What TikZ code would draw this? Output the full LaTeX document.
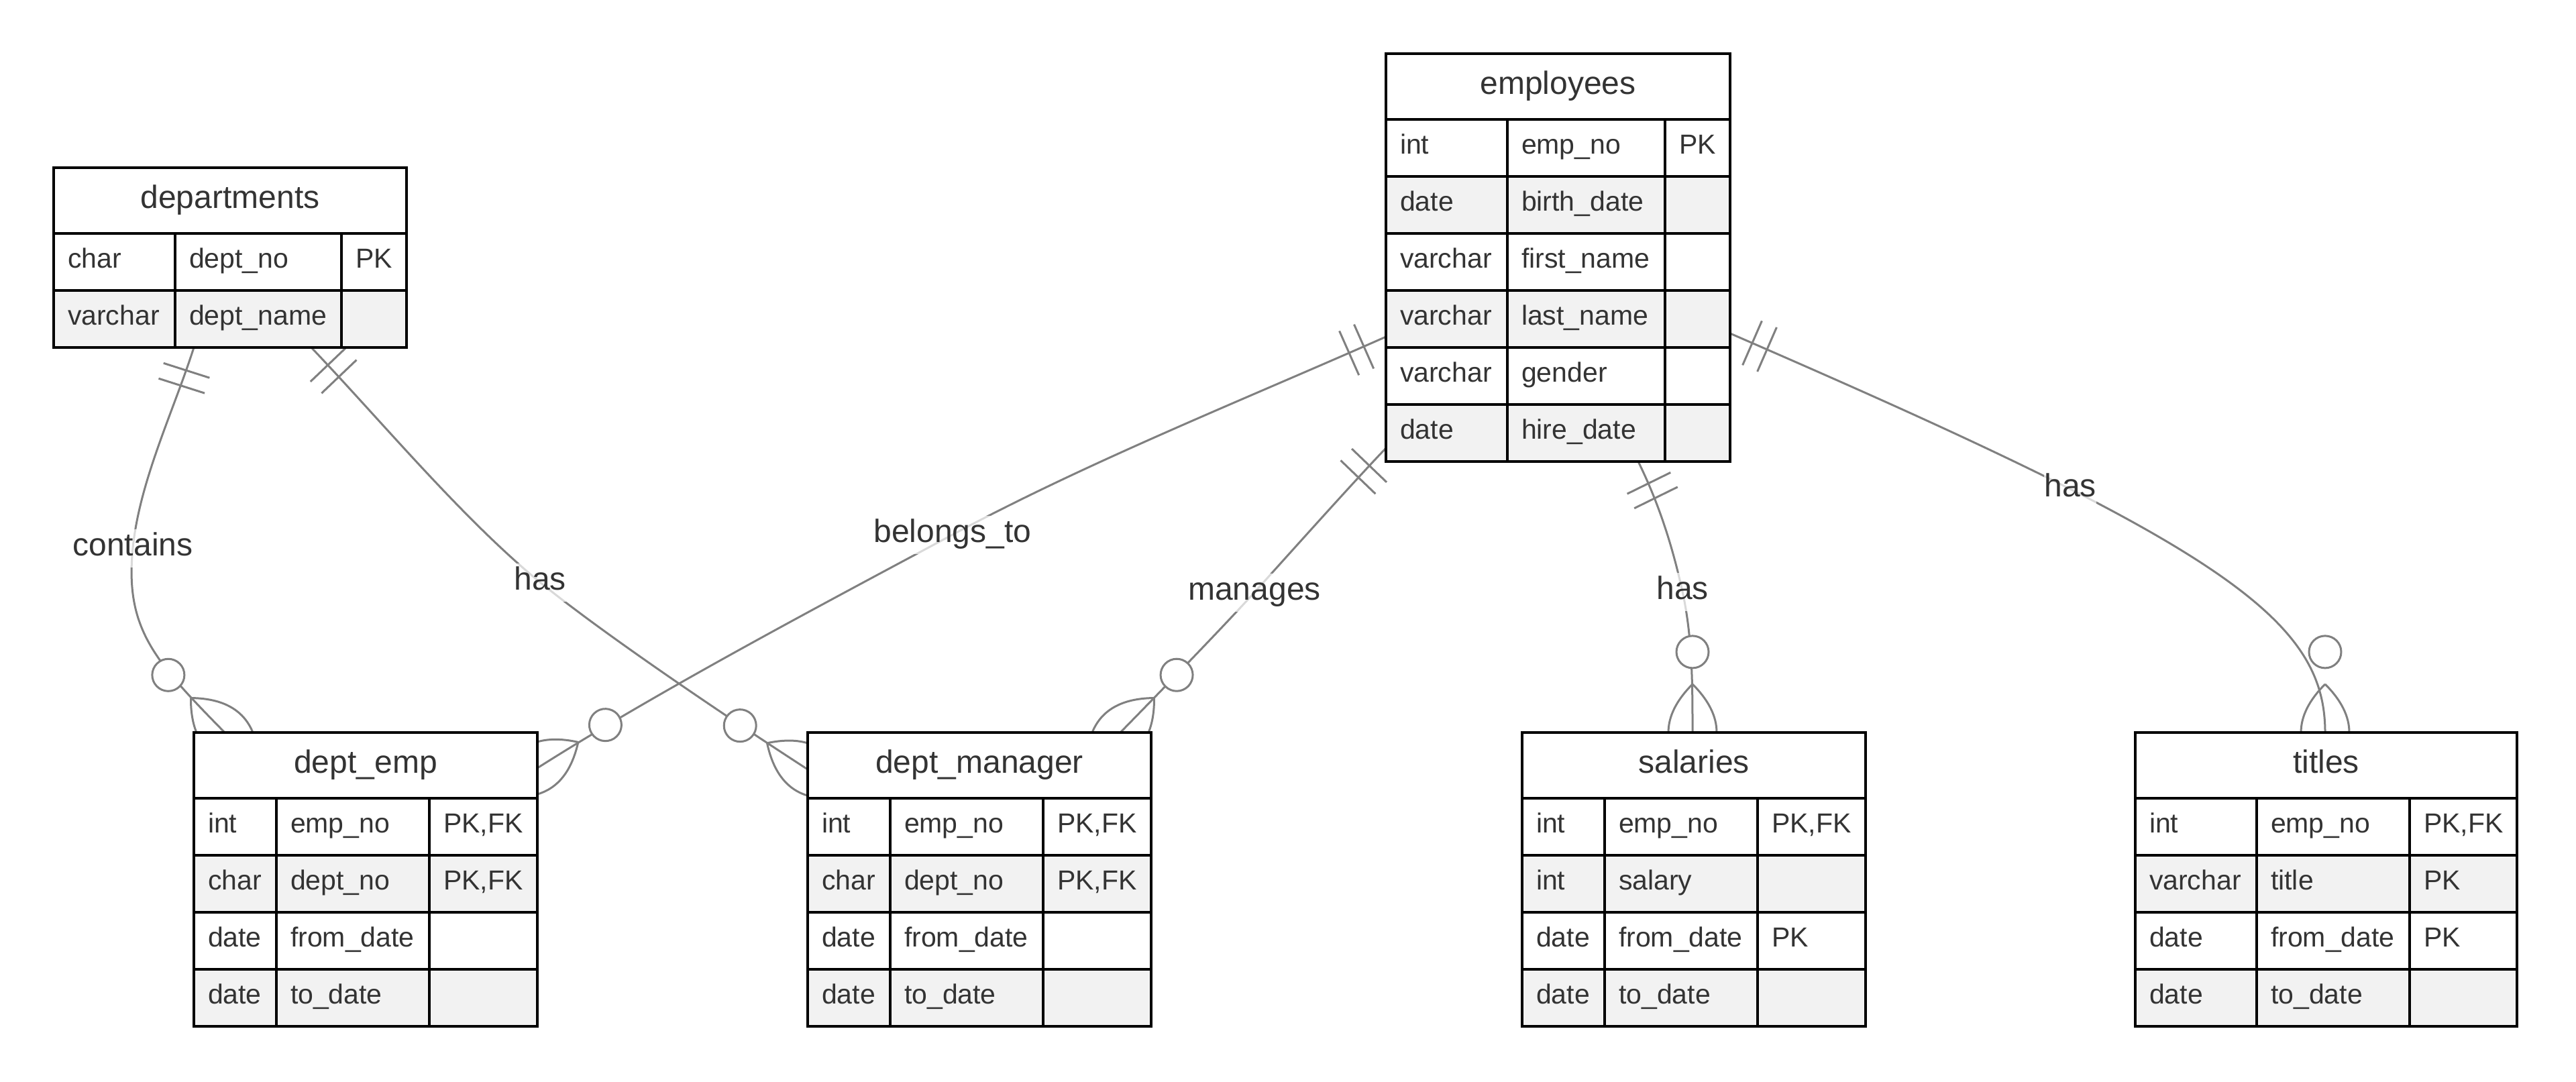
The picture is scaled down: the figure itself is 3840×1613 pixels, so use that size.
\documentclass[tikz,border=0pt]{standalone}
\usepackage{fontspec}
\setmainfont{Liberation Sans}
\usetikzlibrary{calc}
\usetikzlibrary{backgrounds}
\usetikzlibrary{decorations.markings}
\definecolor{textgray}{HTML}{333333}
\definecolor{linegray}{HTML}{808080}
\definecolor{row1}{HTML}{FFFFFF}
\definecolor{row0}{HTML}{F2F2F2}
\tikzset{
  erframe/.style={inner sep=0pt, outer sep=0pt, anchor=north west},
  erhead/.style={draw=black, line width=3.5pt, fill=white, inner sep=0pt, outer sep=0pt,
    anchor=north west, minimum height=98pt, text=textgray,
    font=\fontsize{48}{58}\selectfont, text height=35pt, text depth=12pt},
  ercell/.style={draw=black, line width=3.5pt, inner xsep=21pt, inner ysep=0pt, outer sep=0pt,
    anchor=north west, minimum height=85pt, align=flush left, text=textgray,
    font=\fontsize{41}{50}\selectfont, text height=30pt, text depth=12pt},
  rel/.style={draw=linegray, line width=3pt, postaction={decorate}, decoration={markings,
    mark=at position 0 with {\draw[linegray, line width=3pt] (36,-36) -- (36,36) (60,-36) -- (60,36);},
    mark=at position -0.1pt with {\draw[linegray, line width=3pt] (-72,0) .. controls (-24,48) and (24,48) .. (72,0)
        .. controls (24,-48) and (-24,-48) .. (-72,0);
      \draw[linegray, fill=white, line width=3pt] (-120,0) circle[radius=24pt];}}},
  lbl/.style={fill=white, fill opacity=0.7, text opacity=1, text=textgray,
    font=\fontsize{48}{58}\selectfont, inner xsep=0pt, inner ysep=5pt, text height=35pt, text depth=12pt}
}
% name, title, x, y, column widths, number of rows, rows
\newcommand\ertable[9]{%
  \pgfmathsetmacro\erw{#5+#6+#7}
  \pgfmathsetmacro\erh{98+85*#8}
  \pgfmathsetmacro\erta{#5-42}
  \pgfmathsetmacro\ertb{#6-42}
  \pgfmathsetmacro\ertc{#7-42}
  \node[erframe, minimum width=\erw pt, minimum height=\erh pt] (#1) at (#3,#4) {};
  \node[erhead, minimum width=\erw pt] (#1-head) at (#1.north west) {#2};
  \foreach \ty/\nm/\ky [count=\i] in {#9} {
    \pgfmathtruncatemacro\rc{mod(\i,2)}
    \node[ercell, fill=row\rc, text width=\erta pt] (#1-t\i) at ($(#1.north west)+(0,13+85*\i)$) {\ty};
    \node[ercell, fill=row\rc, text width=\ertb pt] (#1-n\i) at ($(#1.north west)+(#5,13+85*\i)$) {\nm};
    \node[ercell, fill=row\rc, text width=\ertc pt] (#1-k\i) at ($(#1.north west)+(#5+#6,13+85*\i)$) {\ky};
  }
}
\begin{document}
\begin{tikzpicture}[x=1pt,y=-1pt]
\useasboundingbox (0,0) rectangle (3840,1613);
\ertable{departments}{departments}{80}{250}{181}{248}{97}{2}{char/dept\_no/PK, varchar/dept\_name/{}}
\ertable{employees}{employees}{2066}{80}{181}{235}{97}{6}{int/emp\_no/PK, date/birth\_date/{},
  varchar/first\_name/{}, varchar/last\_name/{}, varchar/gender/{}, date/hire\_date/{}}
\ertable{deptemp}{dept\_emp}{289}{1092}{123}{228}{161}{4}{int/emp\_no/{PK,FK}, char/dept\_no/{PK,FK},
  date/from\_date/{}, date/to\_date/{}}
\ertable{deptmanager}{dept\_manager}{1204}{1092}{123}{228}{161}{4}{int/emp\_no/{PK,FK}, char/dept\_no/{PK,FK},
  date/from\_date/{}, date/to\_date/{}}
\ertable{salaries}{salaries}{2269}{1092}{123}{228}{161}{4}{int/emp\_no/{PK,FK}, int/salary/{},
  date/from\_date/PK, date/to\_date/{}}
\ertable{titles}{titles}{3183}{1092}{181}{228}{160}{4}{int/emp\_no/{PK,FK}, varchar/title/PK,
  date/from\_date/PK, date/to\_date/{}}
\begin{scope}[on background layer]
\fill[white] (0,0) rectangle (3840,1613);
% relationships, from the one side to the many side
\draw[rel] ($(departments.south west)+(209,0)$) .. controls (259,612) and (208,717) .. (198,817) node[lbl] {contains}
  .. controls (186,937) and (230,985) .. ($(deptemp.north west)+(46,0)$);
\draw[rel] ($(departments.south west)+(384,0)$) .. controls (567,626) and (689,773) .. (805,868) node[lbl] {has}
  .. controls (906,950) and (1096,1077) .. ($(deptmanager.north west)+(0,55)$);
\draw[rel] ($(employees.north west)+(0,422)$) .. controls (1856,595) and (1623,688) .. (1420,797) node[lbl] {belongs\_to}
  .. controls (1226,901) and (987,1027) .. ($(deptemp.north east)+(0,53)$);
\draw[rel] ($(employees.south west)+(0,-20)$) .. controls (2018,718) and (1917,831) .. (1870,883) node[lbl] {manages}
  .. controls (1823,935) and (1719,1042) .. ($(deptmanager.north west)+(466,0)$);
\draw[rel] ($(employees.south west)+(376,0)$) .. controls (2473,751) and (2493,814) .. (2508,882) node[lbl] {has}
  .. controls (2523,950) and (2523,1022) .. ($(salaries.north west)+(254,0)$);
\draw[rel] ($(employees.north east)+(0,417)$) .. controls (2742,568) and (2925,648) .. (3086,729) node[lbl] {has}
  .. controls (3389,883) and (3466,972) .. ($(titles.north west)+(283,0)$);
\end{scope}
\end{tikzpicture}
\end{document}
